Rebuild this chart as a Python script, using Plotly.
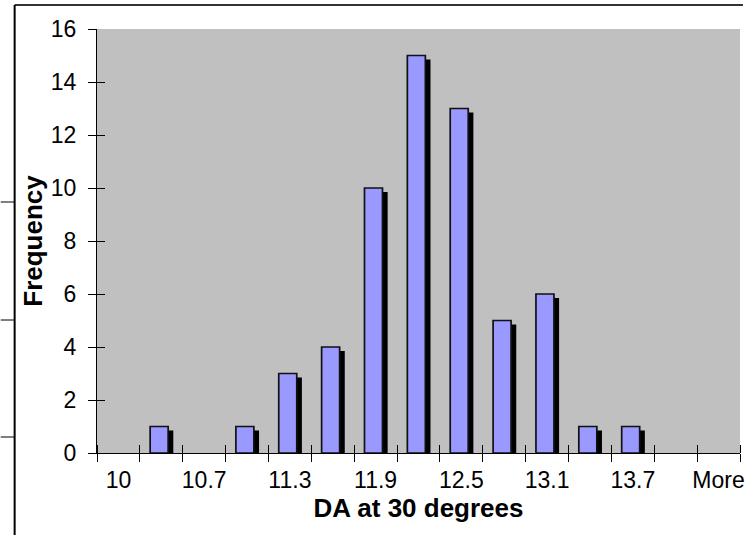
import plotly.graph_objects as go

# Histogram bins (upper edges) and frequencies
bins = ["10", "10.35", "10.7", "11.0", "11.3", "11.6", "11.9", "12.2",
        "12.5", "12.8", "13.1", "13.4", "13.7", "14.0", "More"]
counts = [0, 1, 0, 1, 3, 4, 10, 15, 13, 5, 6, 1, 1, 0, 0]
y_ticks = [0, 2, 4, 6, 8, 10, 12, 14, 16]

W, H = 748, 535
ML, MR, MT, MB = 97, 3, 29, 82
FONT = "Liberation Sans, Arial, sans-serif"

idx = list(range(len(bins)))
label_idx = idx[::2]
label_text = bins[::2]
edges = [i - 0.5 for i in range(len(bins) + 1)]
shown = [c if c > 0 else None for c in counts]
shadow = [c - 0.15 if c > 0 else None for c in counts]

fig = go.Figure()
# drop shadow behind each bar (main subplot, drawn first)
fig.add_bar(x=idx, y=shadow, width=0.42, offset=-0.14,
            marker=dict(color="black", line=dict(width=0)),
            hoverinfo="skip", xaxis="x", yaxis="y")
# the bars themselves sit on the overlaid axes, above the shadow
fig.add_bar(x=idx, y=shown, width=0.42, offset=-0.26,
            marker=dict(color="#9999FF", line=dict(color="#111111", width=1.7)),
            xaxis="x2", yaxis="y2")

xr = [-0.5, len(bins) - 0.5]
common_x = dict(range=xr, showgrid=False, zeroline=False, fixedrange=True)
common_y = dict(range=[0, 16], showgrid=False, zeroline=False, fixedrange=True)


def px(x):
    return (x - ML) / (W - ML - MR)


def py(y):
    return (H - MB - y) / (H - MT - MB)


# chart-area border fragments
shapes = [
    dict(type="line", xref="paper", yref="paper", x0=px(14), x1=px(748),
         y0=py(5), y1=py(5), line=dict(color="#333333", width=2)),
    dict(type="line", xref="paper", yref="paper", x0=px(14), x1=px(14),
         y0=py(5), y1=py(535), line=dict(color="black", width=2)),
]
for yy in (202, 320, 437):
    shapes.append(dict(type="line", xref="paper", yref="paper", x0=px(0),
                       x1=px(14), y0=py(yy), y1=py(yy),
                       line=dict(color="black", width=1)))

fig.update_layout(
    width=W, height=H,
    margin=dict(l=ML, r=MR, t=MT, b=MB),
    barmode="overlay",
    showlegend=False,
    paper_bgcolor="white",
    plot_bgcolor="#C0C0C0",
    font=dict(family=FONT, color="black"),
    shapes=shapes,
    xaxis=dict(**common_x, tickmode="array", tickvals=label_idx,
               ticktext=label_text, ticks="", showline=True,
               linecolor="black", linewidth=1,
               minor=dict(tickmode="array", tickvals=edges, ticks="inside",
                          ticklen=8, tickwidth=1, tickcolor="black",
                          showgrid=False),
               tickfont=dict(size=23, family=FONT, color="black"),
               ticklabelstandoff=6, ticklabeloverflow="allow",
               title=dict(text="DA at 30 degrees", standoff=0,
                          font=dict(size=26, family=FONT, weight="bold"))),
    xaxis2=dict(**common_x, overlaying="x", anchor="y2", side="bottom",
                tickmode="array", tickvals=edges, ticks="outside",
                ticklen=8, tickwidth=1, tickcolor="black",
                showticklabels=False, showline=False),
    yaxis=dict(**common_y, tickmode="array", tickvals=y_ticks,
               ticks="outside", ticklen=8, tickwidth=1, tickcolor="black",
               showline=True, linecolor="black", linewidth=1,
               tickfont=dict(size=23, family=FONT, color="black"),
               ticklabelstandoff=7,
               title=dict(text="Frequency", standoff=0,
                          font=dict(size=26, family=FONT, weight="bold"))),
    yaxis2=dict(**common_y, overlaying="y", anchor="x2", side="left",
                tickmode="array", tickvals=y_ticks, ticks="inside",
                ticklen=8, tickwidth=1, tickcolor="black",
                showticklabels=False, showline=False),
)

fig.write_html("out.html")
